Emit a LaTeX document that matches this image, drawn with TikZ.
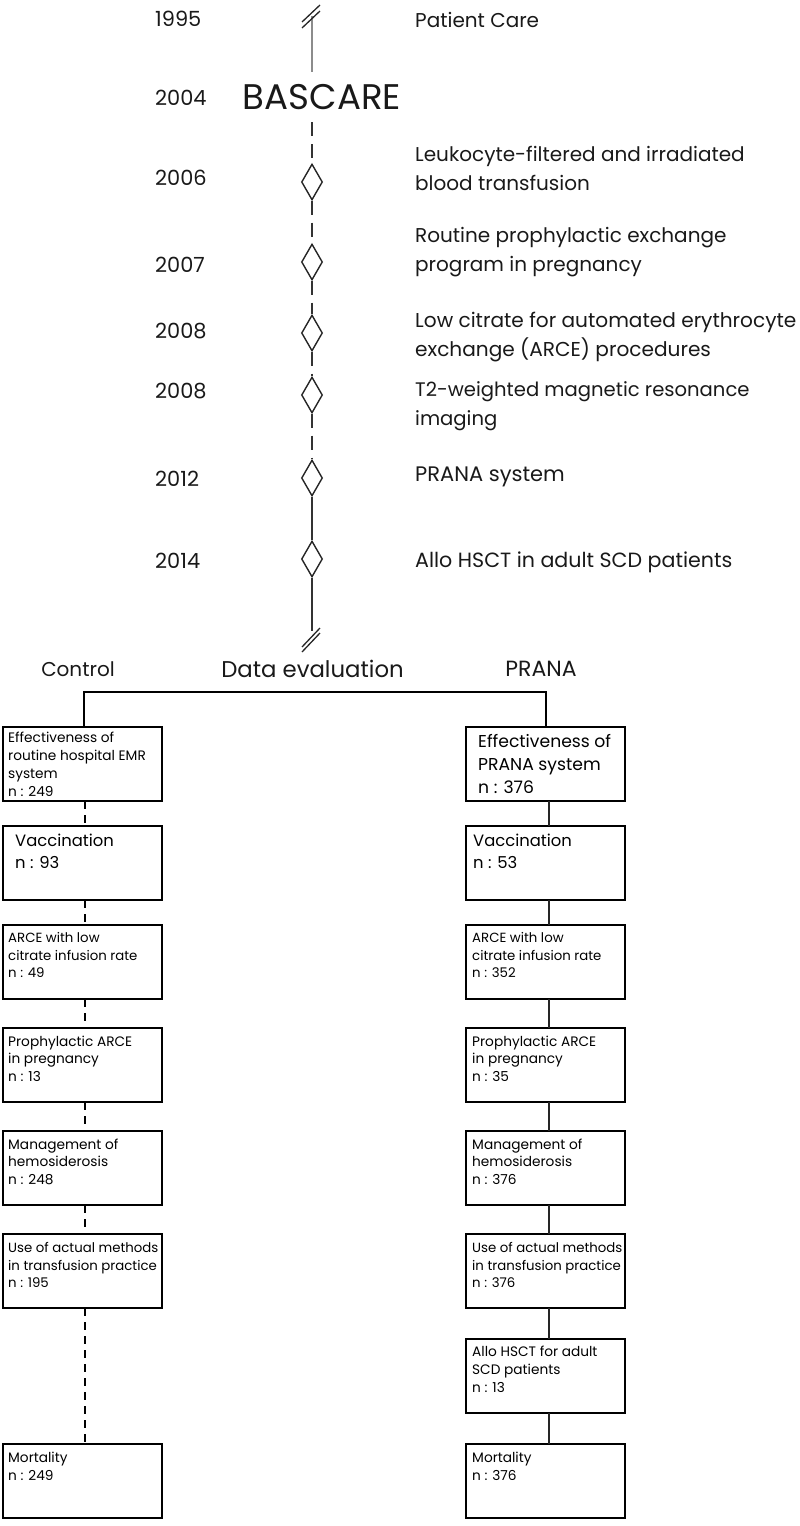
\documentclass[tikz,border=0pt]{standalone}
\usepackage{fontspec}
\setmainfont{Poppins}
\usetikzlibrary{shapes.geometric}
\tikzset{
  year/.style={anchor=base west,inner sep=0pt,font=\fontsize{20.9}{20}\selectfont,text=black!90},
  event/.style={anchor=base west,inner sep=0pt,align=left,font=\fontsize{20}{28.4}\selectfont,text=black!90},
  head/.style={anchor=base,inner sep=0pt,font=\fontsize{20}{24}\selectfont,text=black!90},
  ms/.style={diamond,draw=black!85,line width=1.4pt,minimum width=21pt,minimum height=36pt,inner sep=0pt,aspect=0.6},
  stem/.style={line width=1.4pt,draw=black!80},
  stemdash/.style={stem,dash pattern=on 14pt off 8pt},
  slash/.style={line width=1.3pt,draw=black!85},
  box/.style={draw=black,line width=1.5pt,minimum width=159pt,minimum height=74pt,inner sep=0pt,outer sep=0pt,anchor=north west},
  small/.style={anchor=north west,inner sep=0pt,align=left,font=\fontsize{13.7}{17.8}\selectfont,text=black},
  smaller/.style={small,font=\fontsize{13.3}{17.8}\selectfont},
  big/.style={anchor=north west,inner sep=0pt,align=left,font=\fontsize{16.4}{22}\selectfont,text=black},
  bigb/.style={anchor=north west,inner sep=0pt,align=left,font=\fontsize{17.2}{23}\selectfont,text=black},
  linkc/.style={line width=1.4pt,draw=black,dash pattern=on 8pt off 6pt},
  linkp/.style={line width=1.5pt,draw=black!85},
  bus/.style={line width=1.5pt,draw=black}
}
\begin{document}
\begin{tikzpicture}[x=1pt,y=-1pt]
\useasboundingbox (0,0) rectangle (800,1526);
% timeline labels
\node[year] (y1) at (155,26) {1995};
\node[year] (y2) at (155,105) {2004};
\node[year] (y3) at (155,185) {2006};
\node[year] (y4) at (155,272) {2007};
\node[year] (y5) at (155,338) {2008};
\node[year] (y6) at (155,398) {2008};
\node[year] (y7) at (155,486) {2012};
\node[year] (y8) at (155,568) {2014};
\node[event] (e1) at (415,27) {Patient Care};
\node[event] (e2) at (415,190) {Leukocyte-filtered and irradiated\\blood transfusion};
\node[event] (e3) at (415,271) {Routine prophylactic exchange\\program in pregnancy};
\node[event,font=\fontsize{20.1}{28.6}\selectfont] (e4) at (415,356) {Low citrate for automated erythrocyte\\exchange (ARCE) procedures};
\node[event,font=\fontsize{19.6}{28.6}\selectfont] (e5) at (415,425) {T2-weighted magnetic resonance\\imaging};
\node[event,font=\fontsize{21}{28}\selectfont] (e6) at (415,481) {PRANA system};
\node[event,font=\fontsize{20.6}{28}\selectfont] (e7) at (415,567) {Allo HSCT in adult SCD patients};
\node[anchor=base,inner sep=0pt,font=\fontsize{35.6}{35}\selectfont,text=black!90] (bas) at (322,109) {BASCARE};
% timeline
\node[ms] (d1) at (312,182) {};
\node[ms] (d2) at (312,262) {};
\node[ms] (d3) at (312,333) {};
\node[ms] (d4) at (312,395) {};
\node[ms] (d5) at (312,478) {};
\node[ms] (d6) at (312,559) {};
\coordinate (t0) at (312,16);
\coordinate (t1) at (312,72);
\coordinate (t2) at (312,122);
\coordinate (t3) at (312,631);
\draw[line width=1.8pt,draw=black!45] (t0) -- (t1);
\draw[stemdash] (t2) -- (d1.north);
\draw[stemdash] (d1.south) -- (d2.north);
\draw[stemdash] (d2.south) -- (d3.north);
\draw[stemdash] (d3.south) -- (d4.north);
\draw[stemdash] (d4.south) -- (d5.north);
\draw[stem] (d5.south) -- (d6.north);
\draw[stem] (d6.south) -- (t3);
\coordinate (s1a) at (302,22); \coordinate (s1b) at (320,5);
\coordinate (s2a) at (302,28); \coordinate (s2b) at (320,11);
\coordinate (s3a) at (302,647); \coordinate (s3b) at (320,628);
\coordinate (s4a) at (302,652); \coordinate (s4b) at (320,633);
\draw[slash] (s1a) -- (s1b);
\draw[slash] (s2a) -- (s2b);
\draw[slash] (s3a) -- (s3b);
\draw[slash] (s4a) -- (s4b);
% headings
\node[head] (hc) at (78,676) {Control};
\node[head,font=\fontsize{22.8}{28}\selectfont] (hd) at (312.5,677) {Data evaluation};
\node[head,font=\fontsize{22}{28}\selectfont] (hp) at (541,676) {PRANA};
% boxes
\node[box] (a1) at (3,727) {};
\node[box] (a2) at (3,826) {};
\node[box] (a3) at (3,925) {};
\node[box] (a4) at (3,1028) {};
\node[box] (a5) at (3,1131) {};
\node[box] (a6) at (3,1234) {};
\node[box] (a8) at (3,1444) {};
\node[box] (b1) at (466,727) {};
\node[box] (b2) at (466,826) {};
\node[box] (b3) at (466,925) {};
\node[box] (b4) at (466,1028) {};
\node[box] (b5) at (466,1131) {};
\node[box] (b6) at (466,1234) {};
\node[box] (b7) at (466,1339) {};
\node[box] (b8) at (466,1444) {};
% box texts
\node[small] (ta1) at (8,732) {Effectiveness of\\routine hospital EMR\\system\\n : 249};
\node[big] (ta2) at (15,834) {Vaccination\\n : 93};
\node[smaller] (ta3) at (8,932) {ARCE with low\\citrate infusion rate\\n : 49};
\node[small] (ta4) at (8,1035.5) {Prophylactic ARCE\\in pregnancy\\n : 13};
\node[small] (ta5) at (8,1138.5) {Management of\\hemosiderosis\\n : 248};
\node[smaller] (ta6) at (8,1242) {Use of actual methods\\in transfusion practice\\n :  195};
\node[small] (ta8) at (8,1452) {Mortality\\n : 249};
\node[bigb] (tb1) at (478,734) {Effectiveness of\\PRANA system\\ n : 376};
\node[big] (tb2) at (473,834) {Vaccination\\n : 53};
\node[smaller] (tb3) at (472,932) {ARCE with low\\citrate infusion rate\\n : 352};
\node[small] (tb4) at (472,1035.5) {Prophylactic ARCE\\in pregnancy\\n : 35};
\node[small] (tb5) at (472,1138.5) {Management of\\hemosiderosis\\n : 376};
\node[smaller] (tb6) at (472,1242) {Use of actual methods\\in transfusion practice\\n : 376};
\node[small] (tb7) at (472,1346) {Allo HSCT for adult\\SCD patients\\n : 13};
\node[small] (tb8) at (472,1452) {Mortality\\n : 376};
% connectors
\coordinate (busl) at (84,692);
\coordinate (busr) at (546,692);
\draw[bus] (a1.north -| busl) -- (busl) -- (busr) -- (b1.north -| busr);
\foreach \p/\q in {a1/a2,a2/a3,a3/a4,a4/a5,a5/a6,a6/a8}
  \draw[linkc] (\p.south -| 85,0) -- (\q.north -| 85,0);
\foreach \p/\q in {b1/b2,b2/b3,b3/b4,b4/b5,b5/b6,b6/b7,b7/b8}
  \draw[linkp] (\p.south -| 549,0) -- (\q.north -| 549,0);
\end{tikzpicture}
\end{document}
